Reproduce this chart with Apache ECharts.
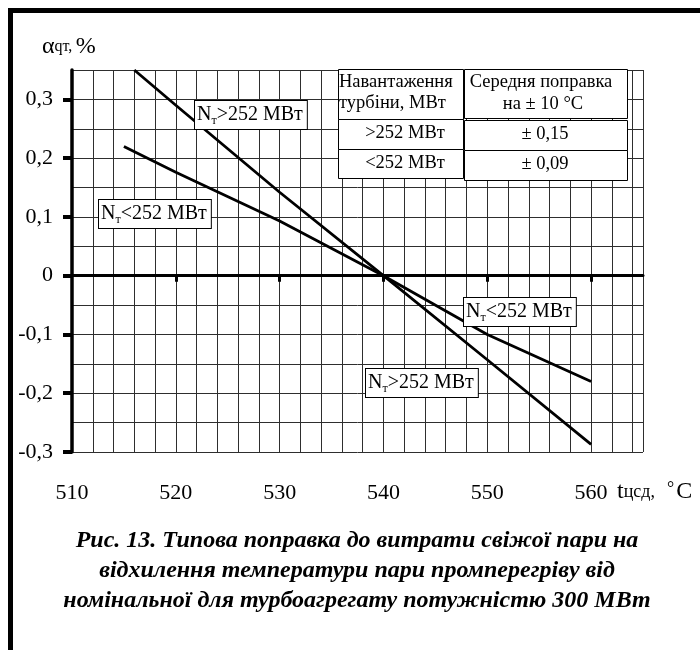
<!DOCTYPE html>
<html>
<head>
<meta charset="utf-8">
<script src="https://cdn.jsdelivr.net/npm/echarts@6/dist/echarts.min.js"></script>
<style>
  html, body { margin: 0; padding: 0; background: #fff; }
  #chart { width: 700px; height: 650px; }
</style>
</head>
<body>
<div id="chart"></div>
<script>
// Temperature of reheat steam, °C
const tempHigh = [516, 520, 530, 540, 550, 560];
// Fresh steam flow correction, %, for turbine load above 252 MW
const corrHigh = [0.35, 0.29, 0.142, 0, -0.143, -0.287];

const tempLow = [515, 520, 530, 540, 550, 560];
// Correction for turbine load below 252 MW
const corrLow = [0.22, 0.176, 0.093, 0, -0.1, -0.18];

// Axis ticks and labels
const xLabelValues = [510, 520, 530, 540, 550, 560];
const xTickValues = [520, 530, 540, 550, 560];
const yTickValues = [-0.3, -0.2, -0.1, 0, 0.1, 0.2, 0.3];

// Summary table
const tableHead = [['Навантаження', 'турбіни, МВт'], ['Середня поправка', 'на ± 10 °С']];
const tableLoads = ['>252 МВт', '<252 МВт'];
const tableCorr = ['± 0,15', '± 0,09'];

const captionLines = [
  'Рис. 13. Типова поправка до витрати свіжої пари на',
  'відхилення температури пари промперегріву від',
  'номінальної для турбоагрегату потужністю 300 МВт'
];

const SERIF = '"Liberation Serif", "DejaVu Serif", serif';

function pairs(xs, ys) { return xs.map((x, i) => [x, ys[i]]); }

function fmtY(v) {
  const r = Math.round(v * 10) / 10;
  if (r === 0) return '0';
  return (r < 0 ? '-' : '') + Math.abs(r).toFixed(1).replace('.', ',');
}

function nLabel(sign, x, y) {
  return {
    type: 'text', x: x, y: y, z: 20,
    style: {
      rich: {
        n: { fontFamily: SERIF, fontSize: 20, fill: '#000', lineHeight: 24 },
        s: { fontFamily: SERIF, fontSize: 12, fill: '#000', lineHeight: 24, verticalAlign: 'bottom' }
      },
      text: '{n|N}{s|т}{n|' + sign + '252 МВт}',
      backgroundColor: '#fff',
      borderColor: '#000',
      borderWidth: 1,
      padding: [2, 4, 2, 2]
    }
  };
}

const graphics = [];
// page frame
graphics.push({ type: 'rect', shape: { x: 8, y: 8, width: 692, height: 5 }, style: { fill: '#000' }, z: 30 });
graphics.push({ type: 'rect', shape: { x: 8, y: 8, width: 5, height: 642 }, style: { fill: '#000' }, z: 30 });

// curve labels
graphics.push(nLabel('>', 195, 101));
graphics.push(nLabel('<', 99, 200));
graphics.push(nLabel('<', 464, 298));
graphics.push(nLabel('>', 366, 369));

// table cells
const cellStyle = { fill: '#fff', stroke: '#000', lineWidth: 1 };
const leftCells = [[338, 69, 125, 50], [338, 119, 125, 30], [338, 149, 125, 29]];
const rightCells = [[464, 69, 163, 49], [464, 120, 163, 30], [464, 150, 163, 30]];
leftCells.concat(rightCells).forEach(c => {
  graphics.push({ type: 'rect', z: 20, shape: { x: c[0] + 0.5, y: c[1] + 0.5, width: c[2], height: c[3] }, style: cellStyle });
});
function tText(t, x, y, align) {
  return { type: 'text', z: 21, x: x, y: y,
    style: { text: t, fontFamily: SERIF, fontSize: 18.5, fill: '#000', align: align, verticalAlign: 'middle' } };
}
graphics.push(tText(tableHead[0][0], 339, 82, 'left'));
graphics.push(tText(tableHead[0][1], 339, 103, 'left'));
graphics.push(tText(tableHead[1][0], 541, 82, 'center'));
graphics.push(tText(tableHead[1][1], 543, 104, 'center'));
graphics.push(tText(tableLoads[0], 405, 133, 'center'));
graphics.push(tText(tableLoads[1], 405, 163, 'center'));
graphics.push(tText(tableCorr[0], 545, 134, 'center'));
graphics.push(tText(tableCorr[1], 545, 164, 'center'));

// axis names
graphics.push({
  type: 'text', x: 42, y: 47,
  style: {
    rich: {
      a: { fontFamily: SERIF, fontSize: 24, fill: '#000' },
      q: { fontFamily: SERIF, fontSize: 16, fill: '#000' }
    },
    text: '{a|α}{q|qт,} {a|%}',
    verticalAlign: 'middle'
  }
});
graphics.push({
  type: 'text', x: 617, y: 492,
  style: {
    rich: {
      t: { fontFamily: SERIF, fontSize: 24, fill: '#000' },
      c: { fontFamily: SERIF, fontSize: 18, fill: '#000' },
      d: { fontFamily: SERIF, fontSize: 18, fill: '#000', verticalAlign: 'top', padding: [0, 2, 0, 12] }
    },
    text: '{t|t}{c|цсд,}{d|°}{t|С}',
    verticalAlign: 'middle'
  }
});

// caption
captionLines.forEach((line, i) => {
  graphics.push({
    type: 'text', x: 357, y: 541 + i * 30,
    style: {
      text: line, fontFamily: SERIF, fontSize: 24, fontStyle: 'italic', fontWeight: 'bold',
      fill: '#000', align: 'center', verticalAlign: 'middle'
    }
  });
});

const gridLine = { show: true, lineStyle: { color: '#2e2e2e', width: 1 } };

const chart = echarts.init(document.getElementById('chart'), null, { renderer: 'canvas' });
chart.setOption({
  animation: false,
  backgroundColor: '#fff',
  grid: { left: 72, right: 57, top: 70, bottom: 198, containLabel: false },
  xAxis: [
    // fine grid every 2 °C
    {
      type: 'value', min: 510, max: 565, interval: 2, position: 'bottom',
      axisLine: { show: false, onZero: false },
      axisTick: { show: false },
      axisLabel: { show: false },
      splitLine: gridLine
    },
    // zero line with ticks every 10 °C
    {
      type: 'value', min: 510, max: 565, interval: 10, position: 'bottom',
      axisLine: { show: true, onZero: true, lineStyle: { color: '#000', width: 3 } },
      axisTick: { show: true, customValues: xTickValues, inside: false, length: 6, lineStyle: { color: '#000', width: 3 } },
      axisLabel: { show: false },
      splitLine: { show: false }
    },
    // temperature labels under the plot
    {
      type: 'value', min: 510, max: 565, interval: 10, position: 'bottom',
      axisLine: { show: false, onZero: false },
      axisTick: { show: false },
      splitLine: { show: false },
      axisLabel: {
        show: true, customValues: xLabelValues, margin: 30,
        fontFamily: SERIF, fontSize: 22, color: '#000'
      }
    }
  ],
  yAxis: [
    // fine grid every 0.05 %
    {
      type: 'value', min: -0.3, max: 0.35, interval: 0.05, position: 'left',
      axisLine: { show: false, onZero: false },
      axisTick: { show: false },
      axisLabel: { show: false },
      splitLine: gridLine
    },
    {
      type: 'value', min: -0.3, max: 0.35, interval: 0.05, position: 'left',
      axisLine: { show: true, onZero: false, lineStyle: { color: '#000', width: 3.5 } },
      axisTick: { show: true, customValues: yTickValues, length: 9, lineStyle: { color: '#000', width: 4 } },
      axisLabel: {
        show: true, customValues: yTickValues, margin: 19,
        fontFamily: SERIF, fontSize: 22, color: '#000',
        formatter: fmtY
      },
      splitLine: { show: false }
    }
  ],
  series: [
    {
      name: 'Nт>252 МВт', type: 'line', data: pairs(tempHigh, corrHigh),
      xAxisIndex: 0, yAxisIndex: 0,
      showSymbol: false, symbol: 'none', clip: true, z: 10,
      lineStyle: { color: '#000', width: 2.8 }
    },
    {
      name: 'Nт<252 МВт', type: 'line', data: pairs(tempLow, corrLow),
      xAxisIndex: 0, yAxisIndex: 0,
      showSymbol: false, symbol: 'none', clip: true, z: 10,
      lineStyle: { color: '#000', width: 2.8 }
    }
  ],
  graphic: graphics
});
</script>
</body>
</html>
